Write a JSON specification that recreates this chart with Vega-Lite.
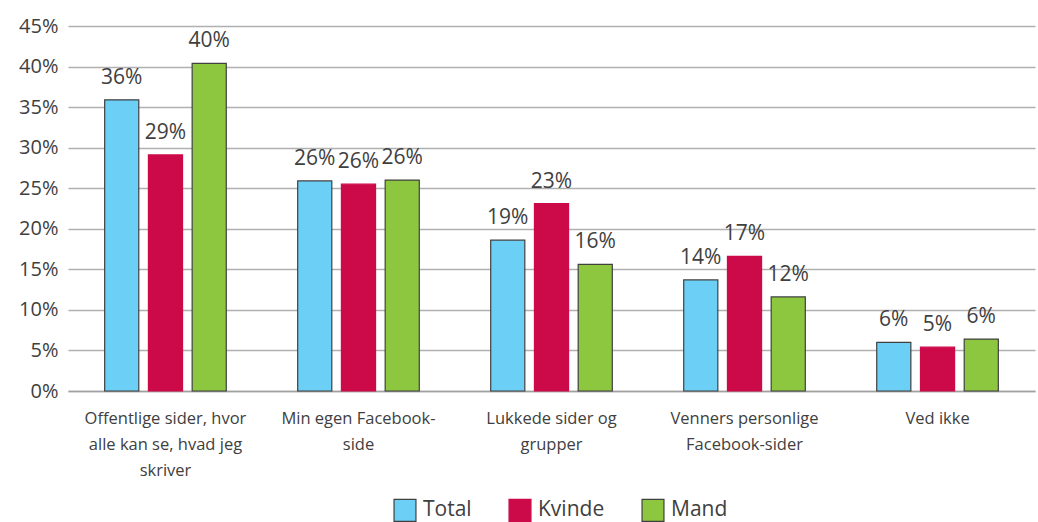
{
  "$schema": "https://vega.github.io/schema/vega-lite/v6.json",
  "autosize": "none",
  "padding": {"left": 68, "top": 26, "right": 3, "bottom": 131},
  "width": 967,
  "height": 365,
  "background": "white",
  "config": {
    "font": "Open Sans",
    "view": {"stroke": null},
    "axis": {"labelColor": "#404040", "labelFont": "Open Sans"},
    "legend": {"labelColor": "#404040"}
  },
  "data": {
    "values": [
      {"cat": "Offentlige sider, hvor|alle kan se, hvad jeg|skriver", "series": "Total", "value": 0.359},
      {"cat": "Offentlige sider, hvor|alle kan se, hvad jeg|skriver", "series": "Kvinde", "value": 0.291},
      {"cat": "Offentlige sider, hvor|alle kan se, hvad jeg|skriver", "series": "Mand", "value": 0.404},
      {"cat": "Min egen Facebook-|side", "series": "Total", "value": 0.259},
      {"cat": "Min egen Facebook-|side", "series": "Kvinde", "value": 0.255},
      {"cat": "Min egen Facebook-|side", "series": "Mand", "value": 0.260},
      {"cat": "Lukkede sider og|grupper", "series": "Total", "value": 0.186},
      {"cat": "Lukkede sider og|grupper", "series": "Kvinde", "value": 0.231},
      {"cat": "Lukkede sider og|grupper", "series": "Mand", "value": 0.156},
      {"cat": "Venners personlige|Facebook-sider", "series": "Total", "value": 0.137},
      {"cat": "Venners personlige|Facebook-sider", "series": "Kvinde", "value": 0.166},
      {"cat": "Venners personlige|Facebook-sider", "series": "Mand", "value": 0.116},
      {"cat": "Ved ikke", "series": "Total", "value": 0.060},
      {"cat": "Ved ikke", "series": "Kvinde", "value": 0.054},
      {"cat": "Ved ikke", "series": "Mand", "value": 0.064}
    ]
  },
  "encoding": {
    "x": {
      "field": "cat",
      "type": "nominal",
      "sort": null,
      "scale": {"paddingInner": 0.37, "paddingOuter": 0.19},
      "axis": {
        "title": null,
        "labelAngle": 0,
        "labelExpr": "split(datum.label, '|')",
        "labelFontSize": 16.5,
        "labelLineHeight": 26,
        "labelPadding": 19,
        "ticks": false,
        "domainColor": "#A0A0A0",
        "domainWidth": 1.5,
        "labelLimit": 300
      }
    },
    "xOffset": {"field": "series", "type": "nominal", "sort": ["Total", "Kvinde", "Mand"], "scale": {"paddingInner": 0.22}},
    "y": {
      "field": "value",
      "type": "quantitative",
      "scale": {"domain": [0, 0.45]},
      "axis": {
        "title": null,
        "values": [0, 0.05, 0.1, 0.15, 0.2, 0.25, 0.3, 0.35, 0.4, 0.45],
        "format": ".0%",
        "labelFontSize": 20,
        "labelPadding": 10,
        "ticks": false,
        "domain": false,
        "gridColor": "#B0B0B0",
        "gridWidth": 1.5
      }
    }
  },
  "layer": [
    {
      "mark": {"type": "bar", "strokeWidth": 1.2},
      "encoding": {
        "fill": {
          "field": "series",
          "type": "nominal",
          "sort": ["Total", "Kvinde", "Mand"],
          "scale": {"domain": ["Total", "Kvinde", "Mand"], "range": ["#6CCFF6", "#CC0A4A", "#8DC63F"]},
          "legend": {
            "title": null,
            "orient": "none",
            "legendX": 325,
            "legendY": 472,
            "direction": "horizontal",
            "symbolType": "square",
            "symbolSize": 480,
            "symbolStrokeWidth": 1.2,
            "labelFontSize": 21,
            "columnPadding": 34,
            "labelOffset": 6
          }
        },
        "stroke": {
          "field": "series",
          "type": "nominal",
          "sort": ["Total", "Kvinde", "Mand"],
          "scale": {"domain": ["Total", "Kvinde", "Mand"], "range": ["#404040", "#CC0A4A", "#404040"]},
          "legend": {
            "title": null,
            "orient": "none",
            "legendX": 325,
            "legendY": 472,
            "direction": "horizontal",
            "symbolType": "square",
            "symbolSize": 480,
            "symbolStrokeWidth": 1.2,
            "labelFontSize": 21,
            "columnPadding": 34,
            "labelOffset": 6
          }
        }
      }
    },
    {
      "mark": {"type": "text", "baseline": "bottom", "dy": -12, "fontSize": 21, "color": "#404040"},
      "encoding": {
        "text": {"field": "value", "type": "quantitative", "format": ".0%"},
        "detail": {"field": "series"}
      }
    }
  ]
}
